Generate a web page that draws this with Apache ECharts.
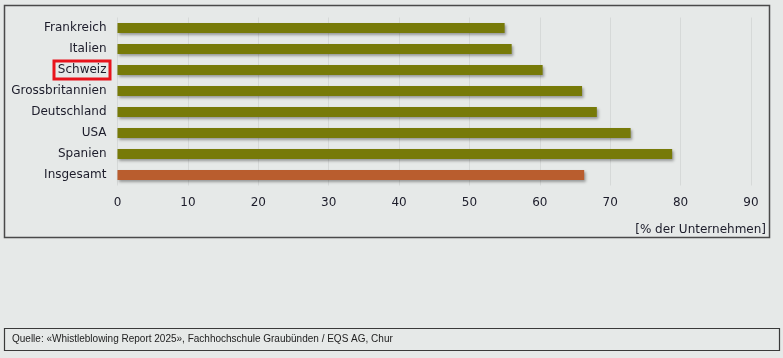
<!DOCTYPE html>
<html><head><meta charset="utf-8">
<script src="https://cdn.jsdelivr.net/npm/echarts@6/dist/echarts.min.js"></script>
<style>html,body{margin:0;padding:0;background:#e6e9e8;}#c{width:783px;height:358px;}</style>
</head><body><div id="c"></div>
<script>
const categories = ["Frankreich","Italien","Schweiz","Grossbritannien","Deutschland","USA","Spanien","Insgesamt"];
const values = [55, 56, 60.4, 66, 68.1, 72.9, 78.8, 66.3];
const highlightIndex = 7;
const boxedCategory = "Schweiz";
const xTicks = [0,10,20,30,40,50,60,70,80,90];
const unitLabel = "[% der Unternehmen]";
const sourceText = "Quelle: «Whistleblowing Report 2025», Fachhochschule Graubünden / EQS AG, Chur";

const chart = echarts.init(document.getElementById('c'), null, {renderer:'canvas'});
const txt = '#1c1c2a';
chart.setOption({
  backgroundColor:'#e6e9e8',
  animation:false,
  grid:{left:117.5, right:32, top:17.5, height:168, containLabel:false},
  xAxis:{type:'value', min:xTicks[0], max:xTicks[xTicks.length-1], interval:10,
    axisLine:{show:false}, axisTick:{show:false},
    axisLabel:{color:txt, fontFamily:'DejaVu Sans', fontSize:12, margin:11},
    splitLine:{show:true, lineStyle:{color:'#d6d9d8', width:1}}},
  yAxis:{type:'category', data:categories, inverse:true,
    axisLine:{show:false}, axisTick:{show:false},
    axisLabel:{color:txt, fontFamily:'DejaVu Sans', fontSize:12, margin:11}},
  series:[{type:'bar', barWidth:10,
    data: values.map((v,i)=>({value:v, itemStyle:{color: i===highlightIndex ? '#b95d2e' : '#777a08'}})),
    itemStyle:{shadowColor:'rgba(0,0,0,0.35)', shadowBlur:3, shadowOffsetX:1.5, shadowOffsetY:2}}]
});
const yc = chart.convertToPixel({yAxisIndex:0}, boxedCategory);
chart.setOption({
  graphic:[
    {type:'rect', shape:{x:4.5, y:5.5, width:765, height:232}, style:{fill:null, stroke:'#4a4a4a', lineWidth:1.5}, silent:true, z:-1},
    {type:'rect', shape:{x:54, y:yc-9, width:56, height:18}, style:{fill:null, stroke:'#e8141c', lineWidth:3}, silent:true},
    {type:'text', right:17, top:224, style:{text:unitLabel, fill:txt, font:'12px "DejaVu Sans"'}},
    {type:'rect', shape:{x:4.5, y:328.5, width:775, height:22}, style:{fill:null, stroke:'#3a3a3a', lineWidth:1.2}, silent:true},
    {type:'text', left:12, top:334, style:{text:sourceText, fill:'#222', font:'10px "Liberation Sans Narrow", "Liberation Sans", sans-serif'}}
  ]
});
</script></body></html>
